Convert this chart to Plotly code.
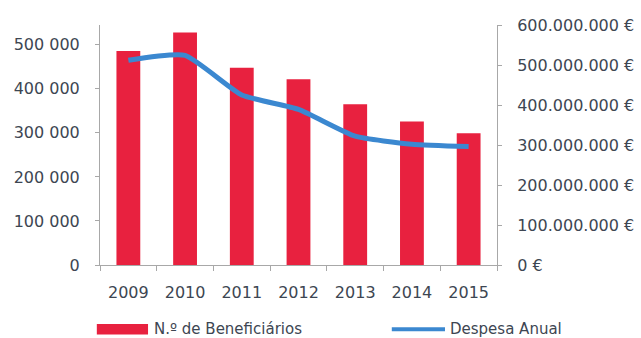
import plotly.graph_objects as go

# Data
years = ["2009", "2010", "2011", "2012", "2013", "2014", "2015"]
beneficiarios = [486000, 528000, 448000, 422000, 365000, 326000, 299000]
despesa = [512e6, 524e6, 425e6, 389e6, 322e6, 302e6, 296e6]

left_ticks = [0, 100000, 200000, 300000, 400000, 500000]
left_labels = ["0", "100 000", "200 000", "300 000", "400 000", "500 000"]
right_ticks = [0, 100e6, 200e6, 300e6, 400e6, 500e6, 600e6]
right_labels = ["0 €", "100.000.000 €", "200.000.000 €", "300.000.000 €",
                "400.000.000 €", "500.000.000 €", "600.000.000 €"]

bar_name = "N.º de Beneficiários"
line_name = "Despesa Anual"

RED = "#E8213F"
BLUE = "#3B88D0"
TEXT = "#3d4652"
AXIS = "#a8a8a8"
FONT = "DejaVu Sans"
FS = 16

fig = go.Figure()
fig.add_trace(go.Bar(x=years, y=beneficiarios, name=bar_name,
                     marker=dict(color=RED, line=dict(width=0)),
                     showlegend=False))
fig.add_trace(go.Scatter(x=years, y=despesa, name=line_name, yaxis="y2",
                         mode="lines", line=dict(color=BLUE, width=5, shape="spline", smoothing=0.5),
                         showlegend=False))

fig.update_layout(
    width=641, height=338,
    margin=dict(l=100, r=144, t=25, b=73),
    paper_bgcolor="white", plot_bgcolor="white",
    bargap=0.58,
    font=dict(family=FONT, size=FS, color=TEXT),
    xaxis=dict(showgrid=False, showline=True, linecolor=AXIS, linewidth=1, automargin=False,
               ticks="outside", ticklen=5, tickcolor=AXIS, tickson="boundaries",
               ticklabelstandoff=13, tickfont=dict(size=FS, color=TEXT)),
    yaxis=dict(range=[0, 545000], tickvals=left_ticks, ticktext=left_labels, automargin=False,
               showgrid=False, zeroline=False, showline=True, linecolor=AXIS, linewidth=1,
               ticks="outside", ticklen=4, tickcolor=AXIS, ticklabelstandoff=12,
               tickfont=dict(size=FS, color=TEXT)),
    yaxis2=dict(range=[0, 600e6], tickvals=right_ticks, ticktext=right_labels, automargin=False,
                overlaying="y", side="right", showgrid=False, zeroline=False,
                showline=True, linecolor=AXIS, linewidth=1,
                ticks="outside", ticklen=4, tickcolor=AXIS, ticklabelstandoff=12,
                tickfont=dict(size=FS, color=TEXT)),
)

# Legend drawn below the plot area
LEG_Y = -0.268
fig.add_shape(type="rect", xref="paper", yref="paper",
              x0=-0.008, x1=0.121, y0=LEG_Y - 0.022, y1=LEG_Y + 0.022,
              fillcolor=RED, line=dict(width=0))
fig.add_annotation(text=bar_name, xref="paper", yref="paper", x=0.131, y=LEG_Y,
                   xanchor="left", yanchor="middle", showarrow=False,
                   font=dict(family=FONT, size=15, color=TEXT))
fig.add_shape(type="line", xref="paper", yref="paper",
              x0=0.735, x1=0.869, y0=LEG_Y, y1=LEG_Y,
              line=dict(color=BLUE, width=4))
fig.add_annotation(text=line_name, xref="paper", yref="paper", x=0.877, y=LEG_Y,
                   xanchor="left", yanchor="middle", showarrow=False,
                   font=dict(family=FONT, size=15, color=TEXT))

fig.write_html("out.html")
